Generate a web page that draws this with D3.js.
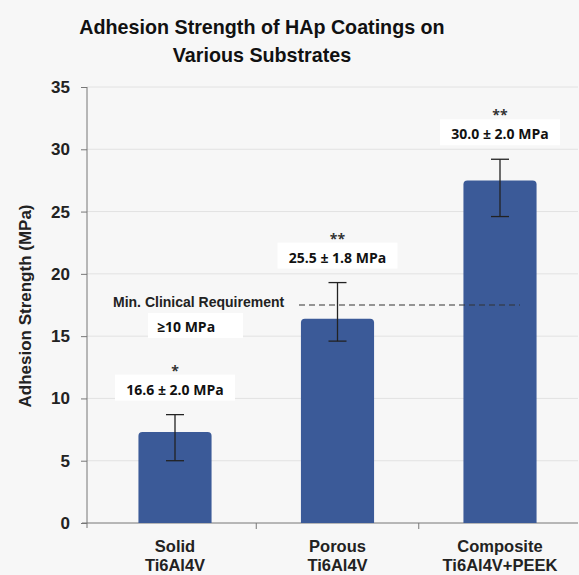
<!DOCTYPE html>
<html>
<head>
<meta charset="utf-8">
<script src="https://cdn.jsdelivr.net/npm/d3@7"></script>
<style>
html,body{margin:0;padding:0;background:#f7f7f7;}
svg{display:block;}
</style>
</head>
<body>
<svg id="chart" width="579" height="575"></svg>
<script>
const categories = [["Solid","Ti6Al4V"],["Porous","Ti6Al4V"],["Composite","Ti6Al4V+PEEK"]];
const values = [7.3, 16.4, 27.5];
const errLow = [5.0, 14.6, 24.6];
const errHigh = [8.7, 19.3, 29.2];
const stars = ["*", "**", "**"];
const annotations = ["16.6 ± 2.0 MPa", "25.5 ± 1.8 MPa", "30.0 ± 2.0 MPa"];
const yTicks = [0, 5, 10, 15, 20, 25, 30, 35];
const threshold = 17.5;
const thresholdLabel = ["Min. Clinical Requirement", "≥10 MPa"];
const titleLines = ["Adhesion Strength of HAp Coatings on", "Various Substrates"];
const yTitle = "Adhesion Strength (MPa)";

const svg = d3.select("#chart");
const W = 579, H = 575;
const pLeft = 87, pRight = 578, pTop = 87, pBottom = 523;

svg.append("rect").attr("width", W).attr("height", H).attr("fill", "#f7f7f7");

const x = d3.scaleBand().domain(d3.range(categories.length)).range([93.75, 581.25]).paddingInner(0.55).paddingOuter(0.275);
const y = d3.scaleLinear().domain([0, 35]).range([pBottom, pTop]);

// gridlines
svg.append("g").selectAll("line").data(yTicks.filter(d => d > 0)).join("line")
  .attr("x1", pLeft).attr("x2", pRight)
  .attr("y1", d => y(d)).attr("y2", d => y(d))
  .attr("stroke", "#e2e2e2").attr("stroke-width", 1);

// y axis
const yAxis = d3.axisLeft(y).tickValues(yTicks).tickSize(6).tickPadding(11);
const gy = svg.append("g").attr("transform", `translate(${pLeft},0)`).call(yAxis);
gy.select(".domain").attr("stroke", "#777").attr("d", `M-0,${pTop}V${pBottom + 5}`);
gy.selectAll(".tick line").attr("stroke", "#777");
gy.selectAll(".tick text").attr("font-family", "Liberation Sans, Arial, sans-serif")
  .attr("font-weight", "bold").attr("font-size", 17).attr("fill", "#222");

// x axis
const bw = x.step();
const xStart = x(0) - x.paddingOuter() * bw;
const xb = d3.scaleLinear().domain([0, categories.length]).range([xStart, xStart + bw * categories.length]);
svg.append("line").attr("x1", pLeft - 5).attr("x2", pRight).attr("y1", pBottom).attr("y2", pBottom).attr("stroke", "#777");
svg.append("g").selectAll("line").data([1, 2]).join("line")
  .attr("x1", d => xb(d)).attr("x2", d => xb(d))
  .attr("y1", pBottom).attr("y2", pBottom + 6).attr("stroke", "#777");

// bars
svg.append("g").selectAll("path").data(values).join("path")
  .attr("d", (d, i) => {
    const x0 = x(i), x1 = x(i) + x.bandwidth(), y0 = y(d), yb = y(0), r = 4;
    return `M${x0},${yb}V${y0 + r}Q${x0},${y0} ${x0 + r},${y0}H${x1 - r}Q${x1},${y0} ${x1},${y0 + r}V${yb}Z`;
  })
  .attr("fill", "#3b5a98");

// error bars
const eg = svg.append("g").attr("stroke", "#222").attr("stroke-width", 1.3);
values.forEach((v, i) => {
  const cx = x(i) + x.bandwidth() / 2;
  eg.append("line").attr("x1", cx).attr("x2", cx).attr("y1", y(errLow[i])).attr("y2", y(errHigh[i]));
  eg.append("line").attr("x1", cx - 9).attr("x2", cx + 9).attr("y1", y(errLow[i])).attr("y2", y(errLow[i]));
  eg.append("line").attr("x1", cx - 9).attr("x2", cx + 9).attr("y1", y(errHigh[i])).attr("y2", y(errHigh[i]));
});

// annotations
const font2 = "Open Sans, Noto Sans, sans-serif";
values.forEach((v, i) => {
  const cx = x(i) + x.bandwidth() / 2;
  const yTop = y(errHigh[i]);
  svg.append("rect").attr("x", cx - 60).attr("y", yTop - 40).attr("width", 120).attr("height", 26).attr("fill", "#ffffff");
  svg.append("text").attr("x", cx).attr("y", yTop - 20).attr("text-anchor", "middle")
    .attr("font-family", font2).attr("font-weight", "bold").attr("font-size", 14).attr("fill", "#111")
    .text(annotations[i]);
  svg.append("text").attr("x", cx).attr("y", yTop - 39).attr("text-anchor", "middle")
    .attr("font-family", font2).attr("font-weight", "bold").attr("font-size", 14).attr("fill", "#333")
    .text(stars[i]);
});

// threshold
const ty = y(threshold);
svg.append("line").attr("x1", 299).attr("x2", 520).attr("y1", ty).attr("y2", ty)
  .attr("stroke", "#333").attr("stroke-width", 1.2).attr("stroke-dasharray", "6,4");
svg.append("text").attr("x", 113).attr("y", ty + 2).attr("font-family", "Liberation Sans, Arial, sans-serif")
  .attr("font-weight", "bold").attr("font-size", 14).attr("fill", "#222").text(thresholdLabel[0]);
svg.append("rect").attr("x", 148).attr("y", ty + 8).attr("width", 95).attr("height", 25).attr("fill", "#ffffff");
svg.append("text").attr("x", 157).attr("y", ty + 27).attr("font-family", font2)
  .attr("font-weight", "bold").attr("font-size", 14).attr("fill", "#111").text(thresholdLabel[1]);

// category labels
categories.forEach((c, i) => {
  const cx = x(i) + x.bandwidth() / 2;
  c.forEach((t, j) => {
    svg.append("text").attr("x", cx).attr("y", 552 + j * 19).attr("text-anchor", "middle")
      .attr("font-family", "Liberation Sans, Arial, sans-serif").attr("font-weight", "bold")
      .attr("font-size", 16.5).attr("fill", "#222").text(t);
  });
});

// y title
svg.append("text").attr("transform", `translate(31,306) rotate(-90)`)
  .attr("text-anchor", "middle").attr("font-family", "Liberation Sans, Arial, sans-serif")
  .attr("font-weight", "bold").attr("font-size", 17).attr("fill", "#222").text(yTitle);

// title
titleLines.forEach((t, i) => {
  svg.append("text").attr("x", 262).attr("y", 34 + i * 28).attr("text-anchor", "middle")
    .attr("font-family", "Liberation Sans, Arial, sans-serif").attr("font-weight", "bold")
    .attr("font-size", 19.7).attr("fill", "#111").text(t);
});
</script>
</body>
</html>
